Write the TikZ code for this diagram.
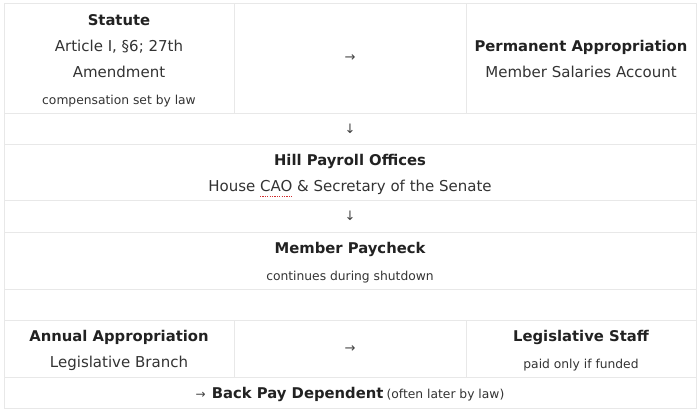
\documentclass[tikz,border=0pt]{standalone}
\usepackage{fontspec}
\setmainfont{DejaVu Sans}
\definecolor{gridc}{HTML}{E8E8E8}
\definecolor{txt}{HTML}{222222}
\definecolor{sub}{HTML}{333333}
\definecolor{arr}{HTML}{444444}
\definecolor{spell}{HTML}{D03030}
\tikzset{
  grid line/.style={draw=gridc, line width=0.8bp},
  ttl/.style={font=\fontsize{14.8bp}{17bp}\selectfont\bfseries, text=txt, inner sep=0pt, anchor=base},
  body/.style={font=\fontsize{15bp}{17bp}\selectfont, text=sub, inner sep=0pt, anchor=base},
  small/.style={font=\fontsize{12.3bp}{14bp}\selectfont, text=sub, inner sep=0pt, anchor=base},
  arrowsym/.style={font=\fontsize{13bp}{15bp}\selectfont, text=arr, inner sep=0pt},
}
\begin{document}
\begin{tikzpicture}[x=1bp,y=-1bp]
\useasboundingbox (0,0) rectangle (700,412);
\fill[white] (0,0) rectangle (700,412);
% grid
\draw[grid line] (4,3) rectangle (696,408);
\foreach \yy in {113,144,200,232,289,320,377} \draw[grid line] (4,\yy) -- (696,\yy);
\draw[grid line] (234,3) -- (234,113);
\draw[grid line] (466,3) -- (466,113);
\draw[grid line] (234,320) -- (234,377);
\draw[grid line] (466,320) -- (466,377);
% row 1
\node[ttl] (statute) at (119,25) {Statute};
\node[body] (art) at (119,51) {Article I, §6; 27th};
\node[body] (amend) at (119,77) {Amendment};
\node[small] (comp) at (119,104) {compensation set by law};
\node[arrowsym] (a1) at (350,58) {→};
\node[ttl] (perm) at (581,51) {Permanent Appropriation};
\node[body] (msa) at (581,77) {Member Salaries Account};
% row 2
\node[arrowsym] (d1) at (350,129) {↓};
% row 3
\node[ttl] (hill) at (350,165) {Hill Payroll Offices};
\node[body] (house) at (350,191) {House CAO \& Secretary of the Senate};
\draw[spell, line width=1bp, dash pattern=on 1.2bp off 1.2bp] (260,196) -- (292,196);
% row 4
\node[arrowsym] (d2) at (350,216) {↓};
% row 5
\node[ttl] (pay) at (350,253) {Member Paycheck};
\node[small] (cont) at (350,280) {continues during shutdown};
% row 7
\node[ttl] (annual) at (119,341) {Annual Appropriation};
\node[body] (leg) at (119,367) {Legislative Branch};
\node[arrowsym] (a2) at (350,349) {→};
\node[ttl] (staff) at (581,341) {Legislative Staff};
\node[small] (paid) at (581,368) {paid only if funded};
% row 8
\node[inner sep=0pt, anchor=base, text=txt] (back) at (350,398)
  {{\fontsize{12bp}{13bp}\selectfont\color{arr}→}\hspace{3bp} {\fontsize{14.8bp}{17bp}\selectfont\bfseries Back Pay Dependent} {\fontsize{12.3bp}{14bp}\selectfont\color{sub}(often later by law)}};
\end{tikzpicture}
\end{document}
